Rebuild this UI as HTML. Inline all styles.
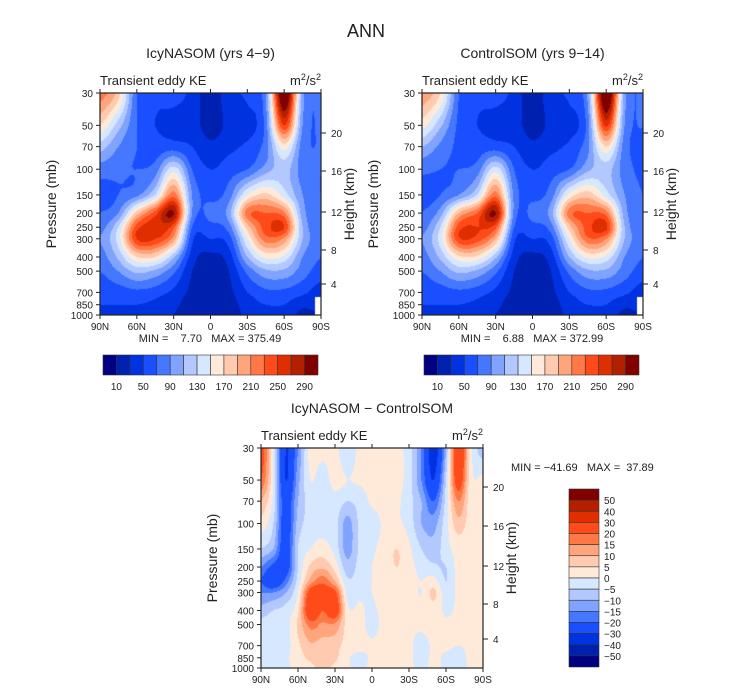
<!DOCTYPE html>
<html><head><meta charset="utf-8">
<style>
body{margin:0;background:#fff;width:733px;height:693px;position:relative;overflow:hidden;font-family:"Liberation Sans",sans-serif}
canvas{position:absolute}
svg{position:absolute;left:0;top:0}
svg text{font-family:"Liberation Sans",sans-serif;fill:#222}
</style></head><body>
<canvas id="c1"></canvas>
<canvas id="c2"></canvas>
<canvas id="c3"></canvas>
<svg id="s" width="733" height="693"></svg>
<script>
const levels=[30,50,70,100,150,200,250,300,400,500,700,850,1000];
const lats15=[90,75,60,45,30,15,0,-15,-30,-45,-60,-75,-90];
const lats10=[90,80,70,60,50,40,30,20,10,0,-10,-20,-30,-40,-50,-60,-70,-80,-90];
const icyVals=[
[220,180,70,55,55,45,15,45,55,90,330,100,70],
[170,120,70,50,45,40,20,35,40,80,250,90,70],
[120,90,70,60,60,50,35,45,55,80,160,80,70],
[80,75,70,80,140,70,50,60,70,100,120,80,70],
[60,70,85,130,220,90,65,80,150,175,140,90,70],
[70,90,180,240,290,90,75,100,220,230,215,100,75],
[80,130,240,260,235,70,65,80,180,240,250,110,75],
[90,140,250,250,200,55,50,60,150,220,205,110,75],
[80,115,170,170,115,40,25,40,110,155,145,90,70],
[70,90,115,105,75,30,20,30,75,105,105,80,60],
[55,60,65,60,45,25,18,25,50,65,65,55,40],
[50,50,50,45,35,20,15,20,40,50,50,35,null],
[45,40,40,35,30,18,15,18,35,40,40,25,null]];
const ctlVals=[
[205,170,70,55,55,45,15,45,55,95,335,100,70],
[160,115,65,50,45,40,20,35,40,80,255,90,70],
[110,85,65,60,60,50,35,45,55,85,170,80,65],
[75,70,70,80,140,70,50,60,70,105,120,80,65],
[60,70,90,130,220,85,65,80,155,180,140,90,70],
[70,100,190,230,290,85,75,100,220,230,220,100,75],
[80,130,240,250,235,70,65,80,180,240,255,110,75],
[90,140,245,240,190,55,50,60,150,225,210,110,75],
[80,115,165,165,115,40,25,40,110,155,145,90,70],
[70,90,115,105,75,30,20,30,75,105,105,80,60],
[55,60,65,60,45,25,18,25,50,65,65,55,40],
[50,50,50,45,35,20,15,20,40,50,50,35,null],
[45,40,40,35,30,18,15,18,35,40,40,25,null]];
const diffVals=[
[25,0,-30,-15,2,2,2,-5,2,2,2,2,-3,-15,-35,-10,30,2,-8],
[20,0,-30,-12,0,-3,2,0,1,2,2,2,-3,-15,-30,-5,25,2,1],
[10,-2,-25,-10,-3,-3,-2,-5,-3,1,2,1,-3,-10,-20,-3,15,2,1],
[3,-5,-25,-8,-3,-2,-3,-12,-4,-3,1,1,-2,-10,-12,-2,8,2,1],
[-5,-10,-25,-5,0,2,-2,-12,-4,-1,2,5,1,-5,-8,-2,2,1,1],
[-15,-22,-25,-5,6,9,3,-8,-3,0,2,5,2,-2,-4,-5,2,2,1],
[-20,-28,-18,-3,12,18,10,-4,-2,0,2,3,2,0,2,-5,2,2,3],
[-15,-15,-10,0,24,24,22,-2,-1,0,2,3,2,0,6,-3,1,1,2],
[-8,-5,-3,4,28,20,26,2,1,-1,2,3,2,1,3,-1,1,1,1],
[-3,-3,-2,6,17,14,14,3,2,-2,2,3,1,1,2,1,1,1,1],
[-2,-2,-2,4,9,8,7,3,2,1,2,2,1,-2,1,1,0,1,1],
[-2,-2,-1,3,6,7,6,1,-2,1,2,2,1,-2,1,-1,-2,1,1],
[-2,-2,-1,2,4,6,4,1,-2,2,2,2,1,-1,1,-1,-3,1,1]];
const keBounds=[10,30,50,70,90,110,130,150,170,190,210,230,250,270,290];
const keLabels=["10","50","90","130","170","210","250","290"];
const diffBounds=[-50,-40,-30,-20,-15,-10,-5,0,5,10,15,20,30,40,50];
const colors=['#000080','#0020b0','#0032e0','#1a4fff','#4577ff','#80a3ff','#b3c8ff','#d6e8ff','#ffead9','#ffcab0','#ffa57c','#ff7845','#ff4a1a','#e02e00','#b32000','#800000'];
const pLabels=[30,50,70,100,150,200,250,300,400,500,700,850,1000];
const latTicks=[90,60,30,0,-30,-60,-90];
const latNames=["90N","60N","30N","0","30S","60S","90S"];

const NS="http://www.w3.org/2000/svg";
const svg=document.getElementById('s');
function el(tag,attrs,parent){const e=document.createElementNS(NS,tag);for(const k in attrs)e.setAttribute(k,attrs[k]);(parent||svg).appendChild(e);return e;}
function txt(x,y,s,size,anchor,name,parent){const t=el('text',{x:x,y:y,'font-size':size,'text-anchor':anchor||'middle'},parent);t.textContent=s;return t;}

function cr(p0,p1,p2,p3,t){return 0.5*((2*p1)+(-p0+p2)*t+(2*p0-5*p1+4*p2-p3)*t*t+(-p0+3*p1-3*p2+p3)*t*t*t);}
function drawField(id,lats,vals,bounds,x0,y0,w,h){
  const c=document.getElementById(id);c.width=w;c.height=h;c.style.left=x0+'px';c.style.top=y0+'px';
  const ctx=c.getContext('2d');const img=ctx.createImageData(w,h);
  const nx=lats.length,ny=levels.length;const step=(lats[0]-lats[nx-1])/(nx-1);
  const L=Math.log(1000/30);
  const rgb=colors.map(s=>[parseInt(s.substr(1,2),16),parseInt(s.substr(3,2),16),parseInt(s.substr(5,2),16)]);
  const get=(j,i)=>{j=Math.max(0,Math.min(ny-1,j));i=Math.max(0,Math.min(nx-1,i));return vals[j][i];};
  for(let py=0;py<h;py++){
    const p=30*Math.exp((py+0.5)/h*L);
    let j=0;while(j<ny-2&&levels[j+1]<p)j++;
    const fy=(Math.log(p)-Math.log(levels[j]))/(Math.log(levels[j+1])-Math.log(levels[j]));
    for(let px=0;px<w;px++){
      const lat=lats[0]-(px+0.5)/w*(lats[0]-lats[nx-1]);
      const fi=(lats[0]-lat)/step;const i=Math.min(nx-2,Math.floor(fi));const fx=fi-i;
      let miss=false;
      const ci=fx>0.7?i+1:i,cj=fy<0.4?j:j+1;
      if(get(cj,ci)===null)miss=true;
      let v=0;
      if(!miss){
        const rows=[];
        for(let dj=-1;dj<=2;dj++){
          const q=[];for(let di=-1;di<=2;di++){let a=get(j+dj,i+di);if(a===null)a=get(j+dj,i+di-1)??0;q.push(a);}
          rows.push(cr(q[0],q[1],q[2],q[3],fx));
        }
        v=cr(rows[0],rows[1],rows[2],rows[3],fy);
      }
      const k=(py*w+px)*4;
      if(miss){img.data[k]=255;img.data[k+1]=255;img.data[k+2]=255;img.data[k+3]=255;continue;}
      let b=0;while(b<bounds.length&&v>=bounds[b])b++;
      const col=rgb[b];img.data[k]=col[0];img.data[k+1]=col[1];img.data[k+2]=col[2];img.data[k+3]=255;
    }
  }
  ctx.putImageData(img,0,0);
}

function axes(x0,y0,w,h,title,hk,name){
  const g=el('g',{});
  const xs=lat=>x0+(90-lat)/180*w;
  const ys=p=>y0+Math.log(p/30)/Math.log(1000/30)*h;
  el('rect',{x:x0,y:y0,width:w,height:h,fill:'none',stroke:'#222','stroke-width':1.2},g);
  txt(x0+w/2,y0-35,title,14,'middle','panel-title',g);
  txt(x0,y0-8,'Transient eddy KE',13,'start','variable-label',g);
  const u=txt(x0+w,y0-8,'m',13,'end','units-label',g);
  u.innerHTML='m<tspan dy="-5" font-size="9">2</tspan><tspan dy="5">/s</tspan><tspan dy="-5" font-size="9">2</tspan>';
  pLabels.forEach(p=>{const y=ys(p);el('line',{x1:x0-4,x2:x0,y1:y,y2:y,stroke:'#222'},g);txt(x0-7,y+4,String(p),10,'end','pressure-tick-label',g);});
  latTicks.forEach((l,i)=>{const x=xs(l);el('line',{x1:x,x2:x,y1:y0+h,y2:y0+h+4,stroke:'#222'},g);el('line',{x1:x,x2:x,y1:y0,y2:y0-4,stroke:'#222'},g);txt(x,y0+h+15,latNames[i],10,'middle','latitude-tick-label',g);});
  const ht=[20,16,12,8,4];
  hk.forEach((y,i)=>{el('line',{x1:x0+w,x2:x0+w+5,y1:y,y2:y,stroke:'#222'},g);txt(x0+w+10,y+4,String(ht[i]),10,'start','height-tick-label',g);});
  const t1=txt(x0-44,y0+h/2,'Pressure (mb)',14,'middle','y-axis-title',g);t1.setAttribute('transform',`rotate(-90 ${x0-44} ${y0+h/2})`);
  const t2=txt(x0+w+33,y0+h/2,'Height (km)',14,'middle','right-axis-title',g);t2.setAttribute('transform',`rotate(-90 ${x0+w+33} ${y0+h/2})`);
}
function hbar(x0,y0,w,h,name){
  const g=el('g',{});
  const bw=w/colors.length;
  colors.forEach((c,i)=>el('rect',{x:x0+i*bw,y:y0,width:bw,height:h,fill:c,stroke:'#333','stroke-width':0.6},g));
  keLabels.forEach((s,i)=>txt(x0+(2*i+1)*bw,y0+h+15,s,10,'middle','colorbar-label',g));
}
function vbar(x0,y0,w,h){
  const g=el('g',{});
  const bh=h/colors.length;
  colors.slice().reverse().forEach((c,i)=>el('rect',{x:x0,y:y0+i*bh,width:w,height:bh,fill:c,stroke:'#333','stroke-width':0.6},g));
  diffBounds.slice().reverse().forEach((b,i)=>txt(x0+w+5,y0+(i+1)*bh+4,String(b).replace('-','\u2212'),10,'start','colorbar-label',g));
}

drawField('c1',lats15,icyVals,keBounds,100,93,221,222);
drawField('c2',lats15,ctlVals,keBounds,422,93,221,222);
drawField('c3',lats10,diffVals,diffBounds,261,448,222,220);
txt(366,37,'ANN',18,'middle','figure-title');
axes(100,93,221,222,'IcyNASOM (yrs 4\u22129)',[133,171,212,250,284],'icynasom-panel');
axes(422,93,221,222,'ControlSOM (yrs 9\u221214)',[133,171,212,250,284],'controlsom-panel');
axes(261,448,222,220,'IcyNASOM \u2212 ControlSOM',[487,526,566,604,639],'difference-panel');
const m1=txt(210,342,'MIN =    7.70   MAX = 375.49',11,'middle','min-max-label');m1.style.whiteSpace='pre';
const m2=txt(532,342,'MIN =    6.88   MAX = 372.99',11,'middle','min-max-label');m2.style.whiteSpace='pre';
const m3=txt(511,471,'MIN = \u221241.69   MAX =  37.89',11,'start','min-max-label');m3.style.whiteSpace='pre';
hbar(103,355,215,20,'icynasom-colorbar');
hbar(424,355,215,20,'controlsom-colorbar');
vbar(569,489,30,178);
</script>
</body></html>
